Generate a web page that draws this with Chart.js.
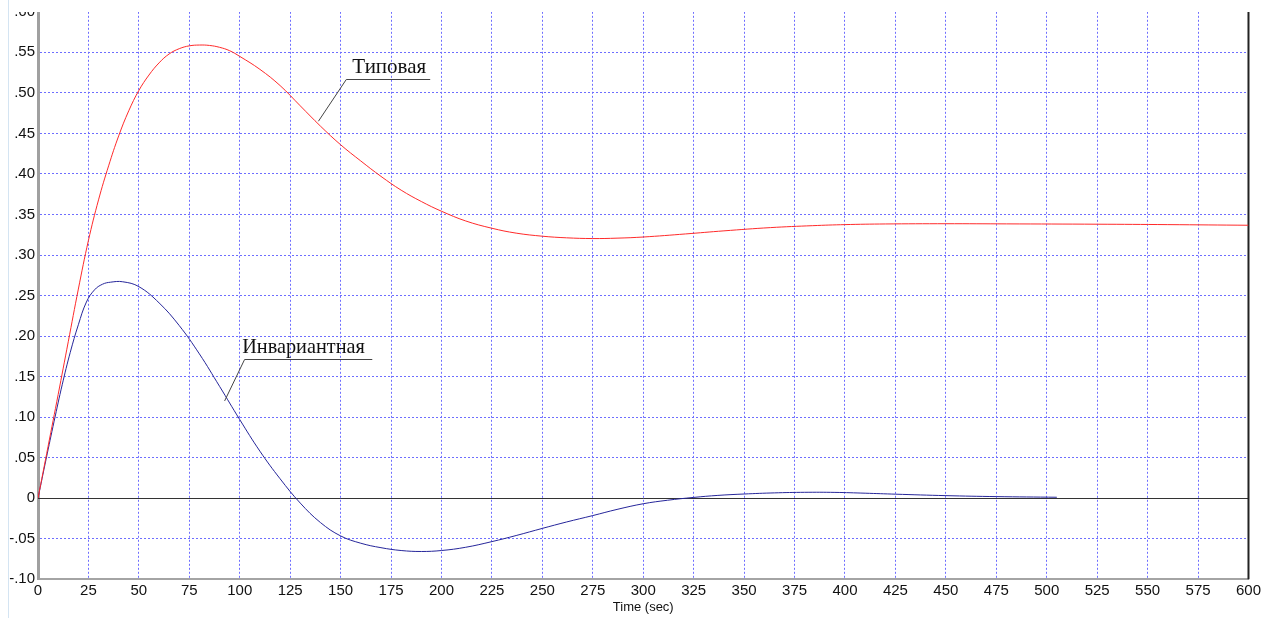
<!DOCTYPE html>
<html>
<head>
<meta charset="utf-8">
<script src="https://cdn.jsdelivr.net/npm/chart.js@4.4.1/dist/chart.umd.min.js"></script>
<style>
  body { margin: 0; background: #fff; overflow: hidden; width: 1264px; height: 618px; }
  .edge { position: absolute; left: 8px; top: 0; width: 1px; height: 618px; background: #d4e4f2; }
  .wrap { position: absolute; left: 0; top: 12px; width: 1264px; height: 606px; overflow: hidden; }
  #plot { position: absolute; left: 0; top: -32px; }
</style>
</head>
<body>
<div class="edge"></div>
<div class="wrap"><canvas id="plot" width="1264" height="638"></canvas></div>
<script>
// Типовая (red)
const tTyp = [0, 5, 10, 15, 20, 25, 30, 35, 40, 45, 50, 55, 60, 65, 70, 75, 80, 85, 90, 95, 100, 110, 120, 130, 140, 150, 160, 170, 180, 190, 200, 212, 225, 237, 250, 262, 275, 287, 300, 321, 340, 363, 384, 400, 420, 450, 480, 525, 560, 600];
const vTyp = [0, 0.064, 0.128, 0.193, 0.258, 0.318, 0.368, 0.41, 0.447, 0.478, 0.503, 0.522, 0.537, 0.548, 0.5545, 0.558, 0.559, 0.5585, 0.5562, 0.552, 0.545, 0.529, 0.509, 0.484, 0.459, 0.436, 0.416, 0.397, 0.380, 0.366, 0.354, 0.342, 0.333, 0.327, 0.3232, 0.3212, 0.3203, 0.3208, 0.3222, 0.326, 0.3298, 0.3338, 0.3362, 0.3375, 0.3383, 0.3386, 0.3384, 0.338, 0.3375, 0.3367];

// Инвариантная (blue)
const tInv = [0, 4, 8, 12, 16, 20, 24, 28, 32, 36, 42, 50, 60, 70, 80, 90, 100, 110, 120, 130, 140, 150, 160, 170, 180, 190, 200, 212, 225, 237, 250, 262, 275, 287, 300, 312, 325, 337, 350, 365, 380, 395, 410, 425, 450, 475, 505];
const vInv = [0, 0.048, 0.095, 0.14, 0.18, 0.214, 0.242, 0.257, 0.264, 0.2665, 0.267, 0.261, 0.241, 0.213, 0.178, 0.138, 0.097, 0.058, 0.024, -0.006, -0.030, -0.0465, -0.0555, -0.061, -0.0645, -0.0657, -0.0645, -0.0605, -0.0535, -0.046, -0.0372, -0.0293, -0.0214, -0.0138, -0.0068, -0.0025, 0.001, 0.0035, 0.0052, 0.0066, 0.0073, 0.0072, 0.0062, 0.005, 0.0032, 0.002, 0.0012];

const xTicks = [0, 25, 50, 75, 100, 125, 150, 175, 200, 225, 250, 275, 300, 325, 350, 375, 400, 425, 450, 475, 500, 525, 550, 575, 600];
const yTicks = [-0.10, -0.05, 0, 0.05, 0.10, 0.15, 0.20, 0.25, 0.30, 0.35, 0.40, 0.45, 0.50, 0.55, 0.60];
const yTickLabels = ['-.10', '-.05', '0', '.05', '.10', '.15', '.20', '.25', '.30', '.35', '.40', '.45', '.50', '.55', '.60'];

// callouts: tip on the curve, elbow, end of the underline (data units)
const notes = [
  { text: 'Типовая', size: 21, tip: [139, 0.465], elbow: [152.8, 0.517], end: 194.4, textX: 155.8, textY: 0.524 },
  { text: 'Инвариантная', size: 20.3, tip: [92.5, 0.120], elbow: [102.4, 0.172], end: 165.7, textX: 101.2, textY: 0.179 }
];

const sans = "'Liberation Sans', Arial, sans-serif";

const pts = (ts, vs) => ts.map((t, i) => ({ x: t, y: vs[i] }));

const frame = {
  id: 'frame',
  beforeDatasetsDraw(chart) {
    const { ctx, chartArea: a, scales: { y } } = chart;
    const y0 = Math.round(y.getPixelForValue(0)) + 0.5;
    ctx.save();
    ctx.strokeStyle = '#333';
    ctx.lineWidth = 1;
    ctx.beginPath();
    ctx.moveTo(a.left, y0);
    ctx.lineTo(a.right, y0);
    ctx.stroke();
    ctx.strokeStyle = '#222';
    ctx.lineWidth = 2;
    ctx.beginPath();
    ctx.moveTo(a.right, a.top);
    ctx.lineTo(a.right, a.bottom);
    ctx.stroke();
    ctx.restore();
  },
  afterDatasetsDraw(chart) {
    const { ctx, scales: { x, y } } = chart;
    ctx.save();
    notes.forEach(n => {
      const tx = x.getPixelForValue(n.tip[0]), ty = y.getPixelForValue(n.tip[1]);
      const ex = x.getPixelForValue(n.elbow[0]), ey = Math.round(y.getPixelForValue(n.elbow[1])) + 0.5;
      const endx = x.getPixelForValue(n.end);
      ctx.strokeStyle = '#444';
      ctx.lineWidth = 1;
      ctx.beginPath();
      ctx.moveTo(tx, ty);
      ctx.lineTo(ex, ey);
      ctx.lineTo(endx, ey);
      ctx.stroke();
      ctx.fillStyle = '#111';
      ctx.font = n.size + "px 'Liberation Serif', 'Times New Roman', serif";
      ctx.textBaseline = 'alphabetic';
      ctx.fillText(n.text, x.getPixelForValue(n.textX), y.getPixelForValue(n.textY));
    });
    ctx.restore();
  }
};

new Chart(document.getElementById('plot'), {
  type: 'line',
  data: {
    datasets: [
      { label: 'Типовая', data: pts(tTyp, vTyp), borderColor: '#ff2a2a', borderWidth: 1, pointRadius: 0, tension: 0.4, fill: false },
      { label: 'Инвариантная', data: pts(tInv, vInv), borderColor: '#26269a', borderWidth: 1, pointRadius: 0, tension: 0.4, fill: false }
    ]
  },
  options: {
    responsive: false,
    animation: false,
    events: [],
    layout: { padding: { top: 31.8, right: 13, bottom: 0, left: 0 } },
    plugins: { legend: { display: false }, tooltip: { enabled: false } },
    scales: {
      x: {
        type: 'linear',
        min: 0,
        max: 600,
        afterBuildTicks: s => { s.ticks = xTicks.map(v => ({ value: v })); },
        afterFit: s => { s.height = 38.7; },
        ticks: { color: '#111', font: { size: 15, family: sans }, padding: 3, maxRotation: 0, autoSkip: false },
        grid: { color: '#6e6eff', lineWidth: 1, drawTicks: false },
        border: { color: '#a4a4a4', width: 2, dash: [2, 2] },
        title: { display: true, text: 'Time (sec)', color: '#111', font: { size: 13, family: sans }, padding: { top: 0, bottom: 3 } }
      },
      y: {
        type: 'linear',
        min: -0.10,
        max: 0.60,
        afterBuildTicks: s => { s.ticks = yTicks.map(v => ({ value: v })); },
        afterFit: s => { s.width = 38; },
        ticks: { color: '#111', font: { size: 15, family: sans }, padding: 3, callback: (v, i) => yTickLabels[i] },
        grid: { color: '#6e6eff', lineWidth: 1, drawTicks: false },
        border: { color: '#a0a0a0', width: 3, dash: [2, 2] }
      }
    }
  },
  plugins: [frame]
});
</script>
</body>
</html>
